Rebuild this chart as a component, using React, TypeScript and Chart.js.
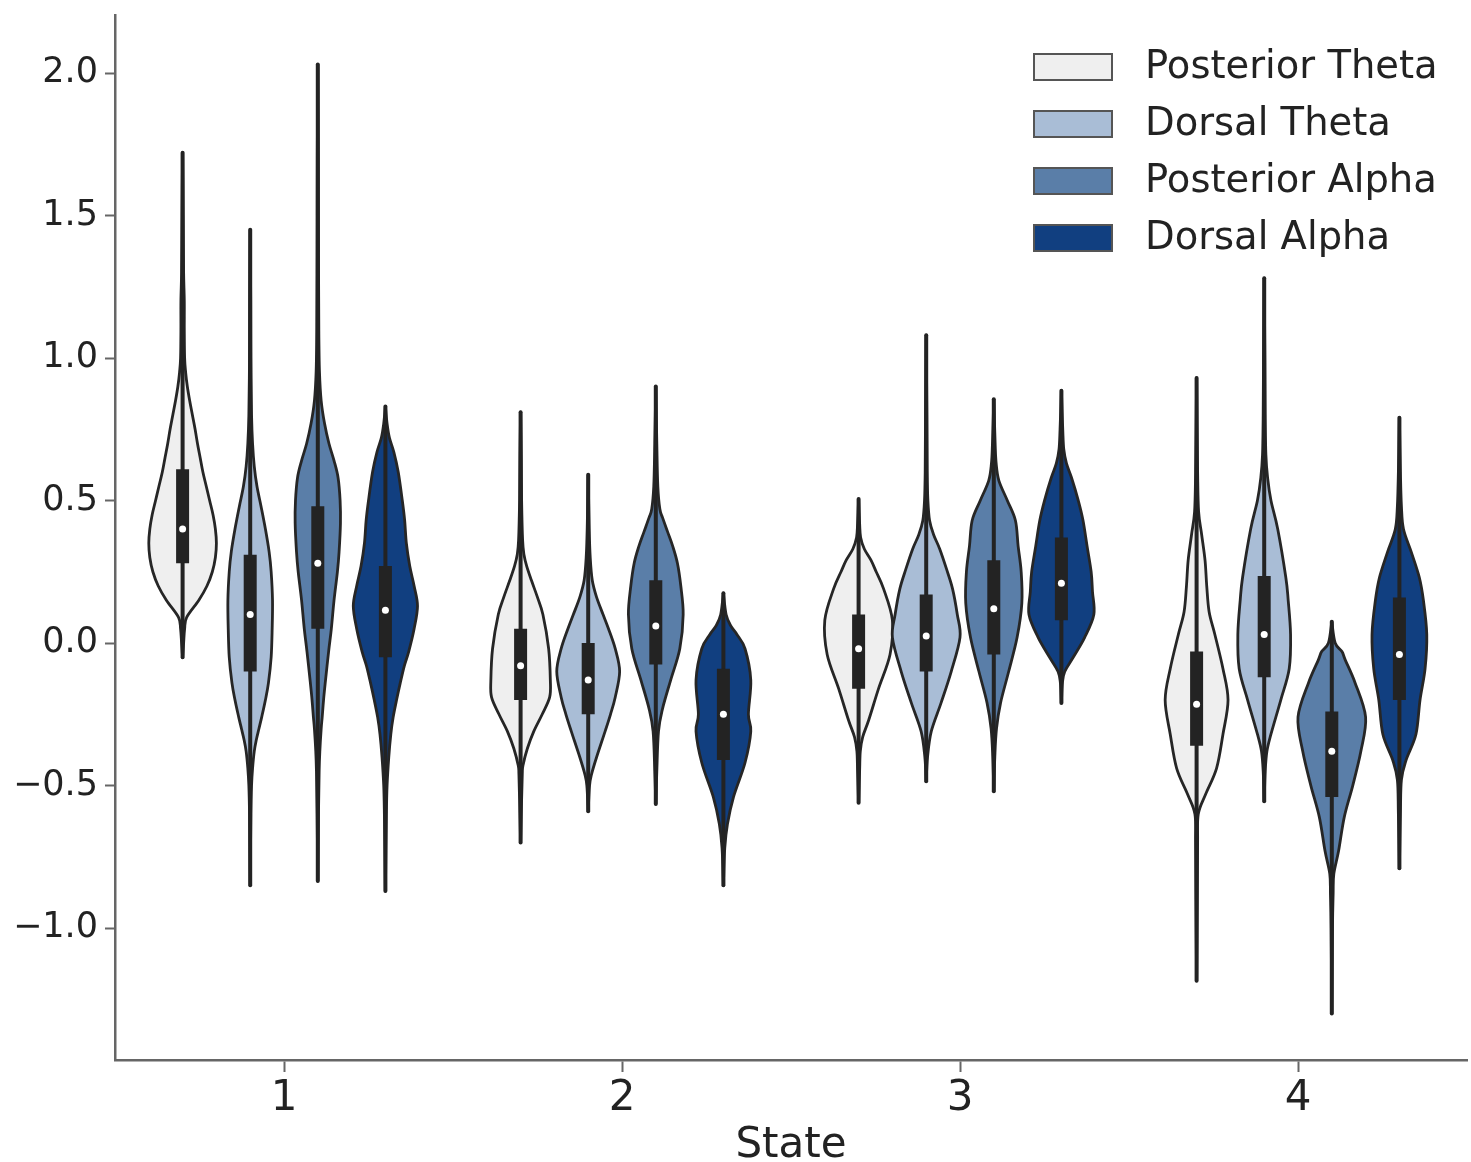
import React, { useEffect, useRef } from "react";
import { Chart, registerables } from "chart.js";

Chart.register(...registerables);

// ---------- data ----------
const states = [1, 2, 3, 4];
const stateLabels = ["1", "2", "3", "4"];
const yTickValues = [-1.0, -0.5, 0.0, 0.5, 1.0, 1.5, 2.0];
const yTickLabels = ["−1.0", "−0.5", "0.0", "0.5", "1.0", "1.5", "2.0"];
const seriesNames = ["Posterior Theta", "Dorsal Theta", "Posterior Alpha", "Dorsal Alpha"];

// [min, q1, median, q3, max] per state
const postThetaStats = [
  [-0.05, 0.28, 0.40, 0.61, 1.72],
  [-0.70, -0.20, -0.08, 0.05, 0.81],
  [-0.56, -0.16, -0.02, 0.10, 0.505],
  [-1.185, -0.36, -0.215, -0.03, 0.93],
];
const dorsThetaStats = [
  [-0.85, -0.10, 0.10, 0.31, 1.45],
  [-0.59, -0.25, -0.13, 0.0, 0.59],
  [-0.485, -0.10, 0.025, 0.17, 1.08],
  [-0.555, -0.12, 0.03, 0.235, 1.28],
];
const postAlphaStats = [
  [-0.835, 0.05, 0.28, 0.48, 2.03],
  [-0.565, -0.075, 0.06, 0.22, 0.90],
  [-0.52, -0.04, 0.12, 0.29, 0.855],
  [-1.30, -0.54, -0.38, -0.24, 0.075],
];
const dorsAlphaStats = [
  [-0.87, -0.05, 0.115, 0.27, 0.83],
  [-0.85, -0.41, -0.25, -0.09, 0.175],
  [-0.21, 0.08, 0.21, 0.37, 0.885],
  [-0.79, -0.20, -0.04, 0.16, 0.79],
];

// kernel density profiles: [value, relative density] per state
const postThetaKde = [
  [[-0.05, 0], [0.0, 0.03], [0.05, 0.06], [0.09, 0.12], [0.15, 0.48], [0.2, 0.72], [0.25, 0.88], [0.3, 0.97], [0.35, 1.0], [0.4, 0.97], [0.45, 0.9], [0.5, 0.8], [0.55, 0.7], [0.6, 0.6], [0.65, 0.52], [0.7, 0.44], [0.75, 0.37], [0.8, 0.29], [0.85, 0.21], [0.9, 0.14], [0.95, 0.09], [1.0, 0.06], [1.1, 0.05], [1.2, 0.05], [1.3, 0.03], [1.45, 0.02], [1.6, 0.01], [1.72, 0]],
  [[-0.70, 0], [-0.55, 0.03], [-0.46, 0.05], [-0.43, 0.07], [-0.37, 0.2], [-0.31, 0.39], [-0.25, 0.64], [-0.19, 0.86], [-0.13, 0.88], [-0.02, 0.83], [0.10, 0.66], [0.16, 0.5], [0.22, 0.32], [0.27, 0.18], [0.31, 0.1], [0.36, 0.06], [0.5, 0.03], [0.65, 0.02], [0.81, 0]],
  [[-0.56, 0], [-0.45, 0.03], [-0.38, 0.05], [-0.33, 0.12], [-0.27, 0.3], [-0.16, 0.59], [-0.04, 0.93], [0.08, 1.0], [0.19, 0.74], [0.25, 0.52], [0.29, 0.37], [0.33, 0.17], [0.37, 0.06], [0.42, 0.03], [0.505, 0]],
  [[-1.185, 0], [-0.9, 0.02], [-0.7, 0.03], [-0.6, 0.05], [-0.53, 0.27], [-0.44, 0.59], [-0.32, 0.78], [-0.2, 0.93], [-0.09, 0.78], [0.03, 0.54], [0.11, 0.37], [0.2, 0.3], [0.29, 0.25], [0.38, 0.15], [0.46, 0.06], [0.6, 0.03], [0.93, 0]],
];
const dorsThetaKde = [
  [[-0.85, 0], [-0.6, 0.02], [-0.5, 0.04], [-0.44, 0.07], [-0.38, 0.12], [-0.34, 0.18], [-0.3, 0.26], [-0.26, 0.34], [-0.2, 0.45], [-0.14, 0.54], [-0.05, 0.62], [0.05, 0.65], [0.15, 0.66], [0.25, 0.62], [0.32, 0.56], [0.4, 0.45], [0.48, 0.32], [0.55, 0.2], [0.62, 0.12], [0.7, 0.07], [0.8, 0.04], [1.0, 0.02], [1.2, 0.015], [1.45, 0]],
  [[-0.59, 0], [-0.5, 0.04], [-0.46, 0.1], [-0.4, 0.25], [-0.31, 0.5], [-0.25, 0.66], [-0.19, 0.8], [-0.1, 0.93], [-0.02, 0.8], [0.05, 0.6], [0.1, 0.44], [0.16, 0.25], [0.22, 0.12], [0.3, 0.06], [0.4, 0.03], [0.59, 0]],
  [[-0.485, 0], [-0.4, 0.04], [-0.31, 0.15], [-0.21, 0.44], [-0.1, 0.74], [0.02, 1.0], [0.1, 0.92], [0.19, 0.78], [0.26, 0.6], [0.33, 0.4], [0.38, 0.22], [0.43, 0.1], [0.5, 0.05], [0.6, 0.03], [0.8, 0.02], [1.08, 0]],
  [[-0.555, 0], [-0.45, 0.03], [-0.38, 0.08], [-0.32, 0.2], [-0.2, 0.49], [-0.09, 0.74], [0.03, 0.78], [0.15, 0.71], [0.23, 0.64], [0.4, 0.4], [0.5, 0.2], [0.58, 0.1], [0.66, 0.05], [0.8, 0.03], [1.0, 0.02], [1.28, 0]],
];
const postAlphaKde = [
  [[-0.835, 0], [-0.6, 0.02], [-0.45, 0.04], [-0.38, 0.06], [-0.3, 0.1], [-0.26, 0.13], [-0.2, 0.17], [-0.14, 0.22], [-0.03, 0.32], [0.05, 0.4], [0.15, 0.48], [0.25, 0.58], [0.32, 0.63], [0.42, 0.67], [0.5, 0.66], [0.58, 0.6], [0.64, 0.48], [0.7, 0.33], [0.77, 0.2], [0.85, 0.1], [0.95, 0.05], [1.1, 0.03], [1.4, 0.02], [1.7, 0.015], [2.03, 0]],
  [[-0.565, 0], [-0.45, 0.03], [-0.31, 0.08], [-0.23, 0.2], [-0.13, 0.44], [-0.02, 0.71], [0.10, 0.81], [0.2, 0.74], [0.28, 0.64], [0.34, 0.5], [0.39, 0.35], [0.44, 0.2], [0.47, 0.12], [0.55, 0.06], [0.7, 0.03], [0.9, 0]],
  [[-0.52, 0], [-0.4, 0.03], [-0.3, 0.08], [-0.21, 0.2], [-0.1, 0.44], [0.02, 0.69], [0.14, 0.83], [0.25, 0.81], [0.34, 0.72], [0.43, 0.64], [0.5, 0.4], [0.57, 0.15], [0.63, 0.07], [0.7, 0.04], [0.855, 0]],
  [[-1.30, 0], [-1.0, 0.02], [-0.88, 0.04], [-0.81, 0.06], [-0.73, 0.2], [-0.61, 0.37], [-0.5, 0.62], [-0.38, 0.86], [-0.26, 1.0], [-0.14, 0.69], [-0.06, 0.4], [-0.03, 0.3], [0.0, 0.1], [0.075, 0]],
];
const dorsAlphaKde = [
  [[-0.87, 0], [-0.6, 0.03], [-0.5, 0.05], [-0.4, 0.1], [-0.32, 0.16], [-0.26, 0.23], [-0.2, 0.33], [-0.14, 0.44], [-0.08, 0.56], [-0.03, 0.69], [0.05, 0.85], [0.13, 0.95], [0.2, 0.85], [0.27, 0.72], [0.35, 0.62], [0.43, 0.57], [0.5, 0.5], [0.6, 0.38], [0.67, 0.25], [0.72, 0.12], [0.77, 0.05], [0.83, 0]],
  [[-0.85, 0], [-0.72, 0.04], [-0.635, 0.12], [-0.54, 0.3], [-0.42, 0.64], [-0.31, 0.81], [-0.25, 0.74], [-0.13, 0.81], [-0.02, 0.64], [0.03, 0.4], [0.06, 0.22], [0.1, 0.08], [0.175, 0]],
  [[-0.21, 0], [-0.14, 0.03], [-0.1, 0.1], [-0.05, 0.35], [0.02, 0.69], [0.1, 0.96], [0.18, 0.92], [0.25, 0.88], [0.34, 0.76], [0.43, 0.64], [0.5, 0.5], [0.58, 0.3], [0.63, 0.15], [0.68, 0.07], [0.75, 0.04], [0.885, 0]],
  [[-0.79, 0], [-0.6, 0.03], [-0.48, 0.06], [-0.41, 0.2], [-0.32, 0.49], [-0.2, 0.61], [-0.09, 0.76], [0.03, 0.81], [0.15, 0.71], [0.23, 0.59], [0.32, 0.35], [0.4, 0.12], [0.48, 0.06], [0.6, 0.03], [0.79, 0]],
];

// ---------- style ----------
const FONT = "DejaVu Sans";
const fillColors = ["#efefef", "#a9bdd6", "#5a7ea8", "#113f80"];
const EDGE = "#262626";
const BOX = "#232323";
const AXIS = "#666666";
const TEXT = "#222222";

const seriesStats = [postThetaStats, dorsThetaStats, postAlphaStats, dorsAlphaStats];
const seriesKde = [postThetaKde, dorsThetaKde, postAlphaKde, dorsAlphaKde];
const DODGE = 0.2;
const HALF = 0.1;

function dodge(i: number) {
  return (i - (seriesNames.length - 1) / 2) * DODGE;
}

function curveThrough(ctx: CanvasRenderingContext2D, pts: { x: number; y: number }[]) {
  const n = pts.length;
  for (let k = 0; k < n - 1; k++) {
    const p0 = pts[Math.max(k - 1, 0)];
    const p1 = pts[k];
    const p2 = pts[k + 1];
    const p3 = pts[Math.min(k + 2, n - 1)];
    const c1x = p1.x + (p2.x - p0.x) / 6;
    const c1y = p1.y + (p2.y - p0.y) / 6;
    const c2x = p2.x - (p3.x - p1.x) / 6;
    const c2y = p2.y - (p3.y - p1.y) / 6;
    ctx.bezierCurveTo(c1x, c1y, c2x, c2y, p2.x, p2.y);
  }
}

const violinPlugin = {
  id: "violins",
  beforeDatasetsDraw(chart: any) {
    const { ctx } = chart;
    const x = chart.scales.x;
    const y = chart.scales.y;
    const unit = x.getPixelForValue(1 + HALF) - x.getPixelForValue(1);
    ctx.save();
    seriesNames.forEach((_, i) => {
      states.forEach((st, j) => {
        const cx = x.getPixelForValue(st + dodge(i));
        const kde = seriesKde[i][j];
        const right = kde.map(([v, d]) => ({ x: cx + d * unit, y: y.getPixelForValue(v) }));
        const left = kde
          .slice()
          .reverse()
          .map(([v, d]) => ({ x: cx - d * unit, y: y.getPixelForValue(v) }));
        ctx.beginPath();
        ctx.moveTo(right[0].x, right[0].y);
        curveThrough(ctx, right);
        curveThrough(ctx, left);
        ctx.closePath();
        ctx.fillStyle = fillColors[i];
        ctx.fill();
        ctx.lineWidth = 2.8;
        ctx.lineJoin = "round";
        ctx.strokeStyle = EDGE;
        ctx.stroke();

        const [mn, q1, , q3, mx] = seriesStats[i][j];
        ctx.beginPath();
        ctx.moveTo(cx, y.getPixelForValue(mn));
        ctx.lineTo(cx, y.getPixelForValue(mx));
        ctx.lineWidth = 4;
        ctx.lineCap = "round";
        ctx.strokeStyle = BOX;
        ctx.stroke();

        ctx.beginPath();
        ctx.moveTo(cx, y.getPixelForValue(q1));
        ctx.lineTo(cx, y.getPixelForValue(q3));
        ctx.lineWidth = 13;
        ctx.lineCap = "butt";
        ctx.stroke();
      });
    });
    ctx.restore();
  },
};

const legendPlugin = {
  id: "violinLegend",
  afterDraw(chart: any) {
    const { ctx, chartArea } = chart;
    ctx.save();
    const patchX = chartArea.right - 433;
    const textX = chartArea.right - 322;
    seriesNames.forEach((name, i) => {
      const cy = chartArea.top + 52 + i * 57;
      ctx.fillStyle = fillColors[i];
      ctx.fillRect(patchX, cy - 13, 78, 26);
      ctx.lineWidth = 2;
      ctx.strokeStyle = "#555555";
      ctx.strokeRect(patchX, cy - 13, 78, 26);
      ctx.fillStyle = TEXT;
      ctx.font = `38.5px "${FONT}"`;
      ctx.textBaseline = "middle";
      ctx.textAlign = "left";
      ctx.fillText(name, textX, cy + 1);
    });
    ctx.restore();
  },
};

export default function App() {
  const ref = useRef<HTMLCanvasElement | null>(null);

  useEffect(() => {
    document.body.style.margin = "0";
    const canvas = ref.current;
    if (!canvas) return;
    const datasets = seriesNames.map((name, i) => ({
      label: name,
      data: states.map((st, j) => ({ x: st + dodge(i), y: seriesStats[i][j][2] })),
      pointRadius: 3.5,
      pointBackgroundColor: "#ffffff",
      pointBorderWidth: 0,
      showLine: false,
    }));
    const chart = new Chart(canvas, {
      type: "scatter",
      data: { datasets },
      options: {
        animation: false,
        responsive: false,
        maintainAspectRatio: false,
        layout: { padding: { top: 15, right: 1, left: 0, bottom: 0 } },
        plugins: { legend: { display: false }, tooltip: { enabled: false } },
        scales: {
          x: {
            type: "linear",
            min: 0.5,
            max: 4.5,
            afterBuildTicks: (s: any) => {
              s.ticks = states.map((v) => ({ value: v }));
            },
            afterFit: (s: any) => {
              s.height = 102;
            },
            ticks: {
              callback: (_v: any, idx: number) => stateLabels[idx],
              font: { family: FONT, size: 42 },
              color: TEXT,
              padding: 2,
              maxRotation: 0,
              autoSkip: false,
            },
            grid: { display: true, drawOnChartArea: false, drawTicks: true, tickLength: 12, tickWidth: 2, tickColor: AXIS },
            border: { display: true, color: AXIS, width: 2.5 },
            title: {
              display: true,
              text: "State",
              font: { family: FONT, size: 42, lineHeight: 0.75 },
              color: TEXT,
              padding: { top: 0, bottom: 0 },
            },
          },
          y: {
            type: "linear",
            min: -1.463,
            max: 2.2035,
            afterBuildTicks: (s: any) => {
              s.ticks = yTickValues.map((v) => ({ value: v }));
            },
            afterFit: (s: any) => {
              s.width = 115;
            },
            ticks: {
              callback: (_v: any, idx: number) => yTickLabels[idx],
              font: { family: FONT, size: 35, lineHeight: 0.4 },
              color: TEXT,
              padding: 7,
              autoSkip: false,
            },
            grid: { display: true, drawOnChartArea: false, drawTicks: true, tickLength: 10, tickWidth: 2, tickColor: AXIS },
            border: { display: true, color: AXIS, width: 2.5 },
          },
        },
      },
      plugins: [violinPlugin, legendPlugin],
    } as any);
    return () => chart.destroy();
  }, []);

  return (
    <div style={{ width: 1471, height: 1162, background: "#ffffff" }}>
      <canvas ref={ref} width={1471} height={1162} style={{ display: "block" }} />
    </div>
  );
}
